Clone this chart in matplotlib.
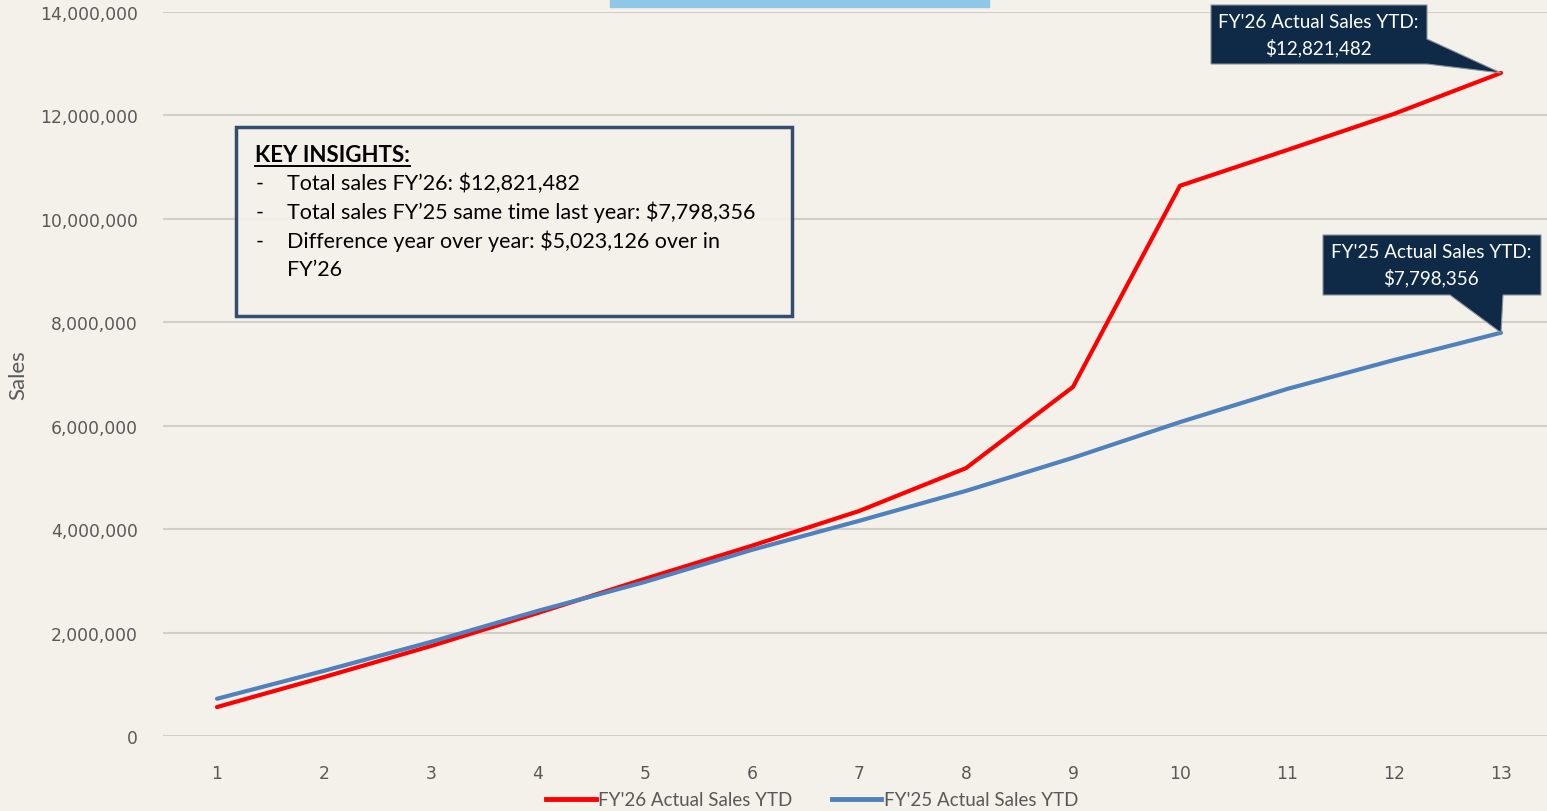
import numpy as np
from matplotlib import pyplot as plt
from matplotlib.patches import Polygon, Rectangle
from matplotlib.lines import Line2D
from matplotlib.ticker import FuncFormatter

# Data
periods = list(range(1, 14))
fy26_sales = [560000, 1140000, 1740000, 2380000, 3040000, 3680000, 4350000,
              5180000, 6750000, 10640000, 11330000, 12030000, 12821482]
fy25_sales = [720000, 1260000, 1820000, 2420000, 2980000, 3600000, 4160000,
              4740000, 5380000, 6070000, 6710000, 7270000, 7798356]
fy26_label = "FY'26 Actual Sales YTD"
fy25_label = "FY'25 Actual Sales YTD"
insights = ["Total sales FY\u201926: $12,821,482",
            "Total sales FY\u201925 same time last year: $7,798,356",
            "Difference year over year: $5,023,126 over in",
            "FY\u201926"]

W, H = 1547, 812
bg = '#f4f1ea'
navy = '#0e2a47'
grey = '#595959'
calib = ['Lato', 'DejaVu Sans']
plt.rcParams['font.family'] = ['DejaVu Sans']

def fx(px):
    return px / W

def fy(py):
    return 1 - py / H

fig = plt.figure(figsize=(W / 100, H / 100), dpi=100, facecolor=bg)
ax = fig.add_axes([fx(163), fy(737), fx(1547) - fx(163), fy(13) - fy(737)])
ax.set_facecolor(bg)

ax.set_ylim(0, 14000000)
ax.set_xlim(0.4953, 13.43)
ax.set_yticks(np.arange(0, 14000001, 2000000))
ax.set_xticks(periods)
ax.yaxis.set_major_formatter(FuncFormatter(lambda v, p: f'{int(v):,}'))
ax.grid(axis='y', color='#d2cfc8', linewidth=1.5)
ax.set_axisbelow(True)
for s in ax.spines.values():
    s.set_visible(False)
ax.tick_params(length=0, colors=grey, labelsize=12.3)
ax.tick_params(axis='y', pad=18)
ax.tick_params(axis='x', pad=20)
ax.set_ylabel('Sales', family=calib, fontsize=16, color=grey)
ax.yaxis.set_label_coords(-0.097, 0.5)

ax.plot(periods, fy26_sales, color='#ff0000', lw=3, solid_capstyle='round', clip_on=False, zorder=3)
ax.plot(periods, fy25_sales, color='#4f81bd', lw=3, solid_capstyle='round', clip_on=False, zorder=3)

# legend
handles = [Line2D([], [], color='#ff0000', lw=3.5), Line2D([], [], color='#4f81bd', lw=3.5)]
fig.legend(handles, [fy26_label, fy25_label], loc='center', bbox_to_anchor=(fx(812), fy(801)),
           ncol=2, frameon=False, handlelength=2.65, handletextpad=0.12, columnspacing=2.1,
           prop={'family': calib, 'size': 13.5}, labelcolor=grey)

# title box (cut off at top)
fig.patches.append(Rectangle((fx(610), fy(8)), fx(989) - fx(610), fy(0) - fy(8),
                             transform=fig.transFigure, color='#8fc8e6', zorder=5))

# key insights box
fig.patches.append(Rectangle((fx(236), fy(317)), fx(792) - fx(236), fy(128) - fy(317),
                             transform=fig.transFigure, facecolor=bg, edgecolor='#1f3c64',
                             lw=2.5, alpha=0.9, zorder=4))
kt = fig.text(fx(255), fy(155), 'KEY INSIGHTS:', family=calib, fontsize=16, weight='bold',
              color='black', va='center', zorder=6)
for i, line in enumerate(insights):
    yy = fy(184 + i * 28.7)
    if i < 3:
        fig.text(fx(256), yy, '-', family=calib, fontsize=15.5, va='center', zorder=6)
    fig.text(fx(287), yy, line, family=calib, fontsize=15.5, va='center', zorder=6)

fig.canvas.draw()
bb = kt.get_window_extent()
uy = bb.y0 - 1
fig.lines.append(Line2D([bb.x0 / W, bb.x1 / W], [uy / H, uy / H], transform=fig.transFigure,
                        color='black', lw=1.4, zorder=6))

# callouts
def tip_px(x, y):
    dx, dy = ax.transData.transform((x, y))
    return dx, H - dy

def callout(verts, lines, cx, cy):
    pts = [(fx(a), fy(b)) for a, b in verts]
    fig.patches.append(Polygon(pts, closed=True, transform=fig.transFigure, facecolor=navy,
                               edgecolor='#8a929c', lw=0.8, zorder=7))
    fig.text(fx(cx), fy(cy), lines, family=calib, fontsize=13.6, color='white',
             ha='center', va='center', linespacing=1.5, zorder=8)

tx, ty = tip_px(13, fy26_sales[-1])
callout([(1211, 6), (1427, 6), (1427, 40), (tx, ty), (1427, 65), (1211, 65)],
        f"{fy26_label}:\n${fy26_sales[-1]:,}", 1318, 36)

tx, ty = tip_px(13, fy25_sales[-1])
callout([(1323, 236), (1541, 236), (1541, 296), (1503, 296), (tx, ty), (1450, 296), (1323, 296)],
        f"{fy25_label}:\n${fy25_sales[-1]:,}", 1431, 266)

fig.savefig('out.png', dpi=100, facecolor=bg)
